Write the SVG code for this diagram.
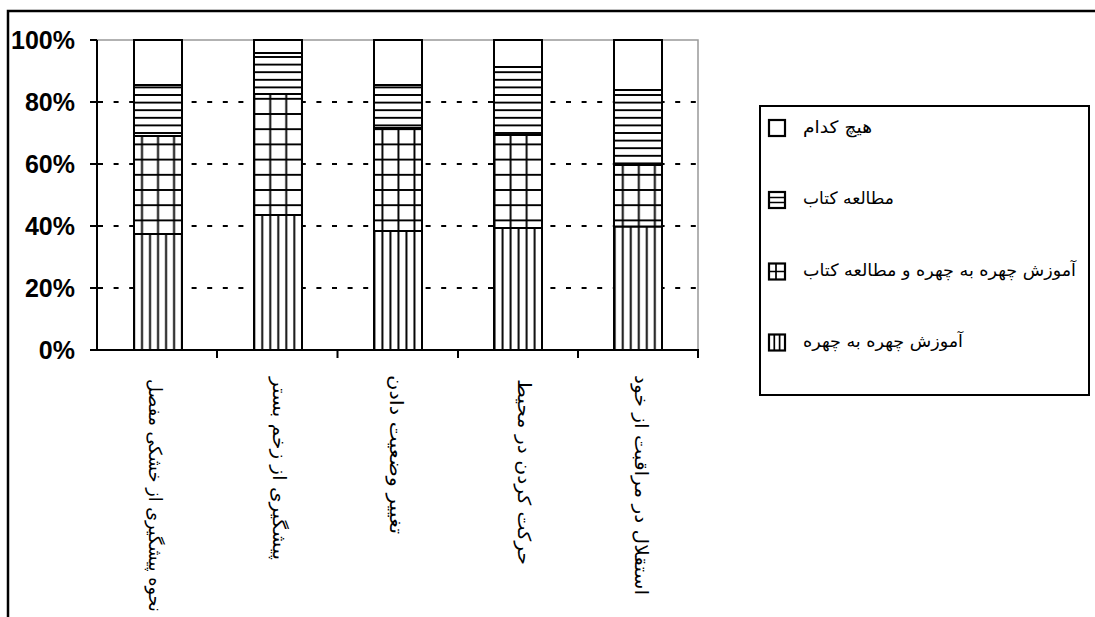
<svg xmlns="http://www.w3.org/2000/svg" width="1095" height="617" viewBox="0 0 1095 617">
<style>
.bar{stroke:#000;stroke-width:2;}
.grid{stroke:#000;stroke-width:2.2;stroke-dasharray:5 10.6;}
.axis{stroke:#000;stroke-width:2;fill:none;}
.ylab{font-family:"Liberation Sans",Arial,sans-serif;font-weight:bold;font-size:25px;fill:#000;text-anchor:end;}
.xlab{font-family:"DejaVu Sans",sans-serif;font-size:18px;fill:#000;dominant-baseline:central;}
.leg{font-family:"DejaVu Sans",sans-serif;font-size:17px;fill:#000;}
.sym{stroke:#000;stroke-width:2.2;}
.hl{stroke:#000;stroke-width:1.9;}
</style>
<defs>
<pattern id="pv" patternUnits="userSpaceOnUse" x="130" y="0" width="8.013" height="10">
<rect width="8.013" height="10" fill="#fff"/>
<line class="hl" x1="4" y1="0" x2="4" y2="10"/>
</pattern>
<pattern id="ph" patternUnits="userSpaceOnUse" x="0" y="0" width="10" height="7.6">
<rect width="10" height="7.6" fill="#fff"/>
<line class="hl" x1="0" y1="3.8" x2="10" y2="3.8"/>
</pattern>
<pattern id="pg" patternUnits="userSpaceOnUse" x="134" y="0" width="16.027" height="15.2">
<rect width="16.027" height="15.2" fill="#fff"/>
<line class="hl" x1="8" y1="0" x2="8" y2="15.2"/>
<line class="hl" x1="0" y1="7.6" x2="16.027" y2="7.6"/>
</pattern>
</defs>
<rect width="1095" height="617" fill="#fff"/>
<g id="frame">
<polyline points="8,617 8,11 1095,11" fill="none" stroke="#000" stroke-width="2.5"/>
</g>
<g id="gridlines">
<line class="grid" x1="98" y1="102" x2="698" y2="102"/>
<line class="grid" x1="98" y1="164" x2="698" y2="164"/>
<line class="grid" x1="98" y1="226" x2="698" y2="226"/>
<line class="grid" x1="98" y1="288" x2="698" y2="288"/>
<polyline points="97,40 698,40 698,350" fill="none" stroke="#999" stroke-width="1.5"/>
</g>
<g id="bars">
<g id="bar1">
<rect class="bar" x="134" y="234" width="48" height="116" fill="url(#pv)"/>
<rect class="bar" x="134" y="136" width="48" height="98" fill="url(#pg)"/>
<rect class="bar" x="134" y="85" width="48" height="51" fill="url(#ph)"/>
<rect class="bar" x="134" y="40" width="48" height="45" fill="#fff"/>
</g>
<g id="bar2">
<rect class="bar" x="254" y="215" width="48" height="135" fill="url(#pv)"/>
<rect class="bar" x="254" y="94" width="48" height="121" fill="url(#pg)"/>
<rect class="bar" x="254" y="53" width="48" height="41" fill="url(#ph)"/>
<rect class="bar" x="254" y="40" width="48" height="13" fill="#fff"/>
</g>
<g id="bar3">
<rect class="bar" x="374" y="231" width="48" height="119" fill="url(#pv)"/>
<rect class="bar" x="374" y="128" width="48" height="103" fill="url(#pg)"/>
<rect class="bar" x="374" y="85" width="48" height="43" fill="url(#ph)"/>
<rect class="bar" x="374" y="40" width="48" height="45" fill="#fff"/>
</g>
<g id="bar4">
<rect class="bar" x="494" y="228" width="48" height="122" fill="url(#pv)"/>
<rect class="bar" x="494" y="135" width="48" height="93" fill="url(#pg)"/>
<rect class="bar" x="494" y="67" width="48" height="68" fill="url(#ph)"/>
<rect class="bar" x="494" y="40" width="48" height="27" fill="#fff"/>
</g>
<g id="bar5">
<rect class="bar" x="614" y="226.5" width="48" height="123.5" fill="url(#pv)"/>
<rect class="bar" x="614" y="165" width="48" height="61.5" fill="url(#pg)"/>
<rect class="bar" x="614" y="90" width="48" height="75" fill="url(#ph)"/>
<rect class="bar" x="614" y="40" width="48" height="50" fill="#fff"/>
</g>
</g>
<g id="axes">
<line class="axis" x1="97" y1="40" x2="97" y2="351"/>
<line class="axis" x1="96" y1="350" x2="699" y2="350"/>
<path class="axis" d="M90,40H97M90,102H97M90,164H97M90,226H97M90,288H97M90,350H97"/>
<path class="axis" d="M217,350V358M337.5,350V358M458,350V358M578,350V358M698,350V358"/>
</g>
<g id="ylabels">
<text class="ylab" x="75" y="49">100%</text>
<text class="ylab" x="75" y="111">80%</text>
<text class="ylab" x="75" y="173">60%</text>
<text class="ylab" x="75" y="235">40%</text>
<text class="ylab" x="75" y="297">20%</text>
<text class="ylab" x="75" y="359">0%</text>
</g>
<g id="xlabels">
<text class="xlab" transform="translate(155,379) rotate(90)" textLength="233" lengthAdjust="spacingAndGlyphs">نحوه پیشگیری از خشکی مفصل</text>
<text class="xlab" transform="translate(279,377) rotate(90)" textLength="183" lengthAdjust="spacingAndGlyphs">پیشگیری از زخم بستر</text>
<text class="xlab" transform="translate(396,375) rotate(90)" textLength="159" lengthAdjust="spacingAndGlyphs">تغییر وضعیت دادن</text>
<text class="xlab" transform="translate(524,379) rotate(90)" textLength="186" lengthAdjust="spacingAndGlyphs">حرکت کردن در محیط</text>
<text class="xlab" transform="translate(641,375) rotate(90)" textLength="220" lengthAdjust="spacingAndGlyphs">استقلال در مراقبت از خود</text>
</g>
<g id="legend">
<rect x="760" y="106" width="329" height="289" fill="#fff" stroke="#000" stroke-width="2"/>
<g id="leg1">
<rect class="sym" x="769" y="120" width="16" height="16" fill="#fff"/>
<text class="leg" x="803" y="133" textLength="69" lengthAdjust="spacingAndGlyphs">هیچ کدام</text>
</g>
<g id="leg2">
<rect class="sym" x="769" y="192" width="16" height="16" fill="#fff"/>
<path d="M769,197.5H785M769,202.5H785" stroke="#000" stroke-width="1.7"/>
<text class="leg" x="803" y="204" textLength="91" lengthAdjust="spacingAndGlyphs">مطالعه کتاب</text>
</g>
<g id="leg3">
<rect class="sym" x="769" y="263.5" width="16" height="16" fill="#fff"/>
<path d="M776,263.5V279.5M769,271.5H785" stroke="#000" stroke-width="1.7"/>
<text class="leg" x="803" y="276" textLength="273" lengthAdjust="spacingAndGlyphs">آموزش چهره به چهره و مطالعه کتاب</text>
</g>
<g id="leg4">
<rect class="sym" x="769" y="334.5" width="16" height="16" fill="#fff"/>
<path d="M774.3,334.5V350.5M779.6,334.5V350.5" stroke="#000" stroke-width="1.7"/>
<text class="leg" x="803" y="347" textLength="160" lengthAdjust="spacingAndGlyphs">آموزش چهره به چهره</text>
</g>
</g>
</svg>
